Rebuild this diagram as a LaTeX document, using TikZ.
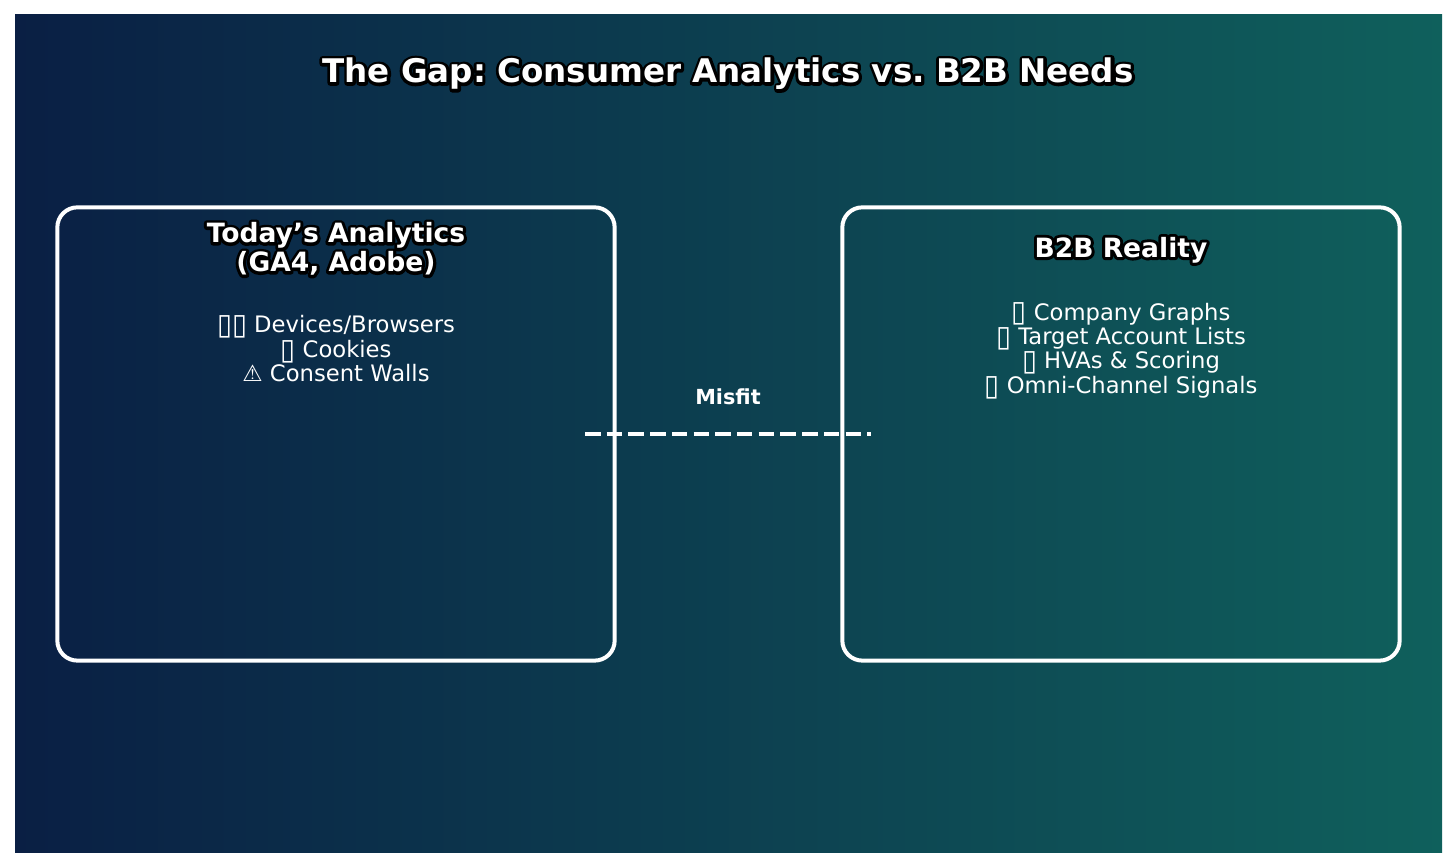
\documentclass[tikz,border=0pt]{standalone}
\usepackage{fontspec}
\usepackage{xcolor}
\usepackage{graphicx}
\setmainfont{DejaVu Sans}
\usetikzlibrary{calc}
\definecolor{gapleft}{RGB}{10,31,68}
\definecolor{gapright}{RGB}{15,96,92}
\newcommand{\tofu}{\raisebox{-0.08em}[0pt][0pt]{\scalebox{1.2}[1.3]{▯}}}
\newcommand{\outl}[1]{\leavevmode\rlap{\special{pdf:code q 2 Tr 1.7 w 1 j 0 0 0 RG 0 0 0 rg}#1\special{pdf:code Q}}#1}

\tikzset{
    panel/.style={draw=white, line width=0.04cm, rounded corners=0.2cm, minimum width=5.57cm, minimum height=4.53cm},
    heading/.style={text=white, align=center, font=\frenchspacing\fontsize{7.55}{8.25}\selectfont\bfseries},
    itemlist/.style={text=white, align=center, font=\fontsize{6.45}{6.95}\selectfont},
}

\begin{document}
\begin{tikzpicture}[x=0.01cm, y=-0.01cm]
    \useasboundingbox (0,0) rectangle (1456,868);

    % 1. Nền
    \shade[left color=gapleft, right color=gapright] (15,15) rectangle (1442,853);
    \node[text=white, font=\frenchspacing\fontsize{9.25}{11}\selectfont\bfseries] (title) at (728,74) {\outl{The Gap: Consumer Analytics vs. B2B Needs}};

    % 2. Hai khung
    \node[panel] (today) at (336,434) {};
    \node[panel] (reality) at (1121,434) {};

    % 3. Nội dung
    \node[heading] (todayhead) at (336,249) {\outl{Today’s Analytics}\\\outl{(GA4, Adobe)}};
    \node[itemlist] (todayitems) at (336,349) {\tofu\tofu{} Devices/Browsers\\\tofu{} Cookies\\⚠ Consent Walls};
    \node[heading] (realityhead) at (1121,250) {\outl{B2B Reality}};
    \node[itemlist] (realityitems) at (1121,350.5) {\tofu{} Company Graphs\\\tofu{} Target Account Lists\\\tofu{} HVAs \& Scoring\\\tofu{} Omni-Channel Signals};

    % 4. Đường nối
    \coordinate (gapstart) at (585,434);
    \coordinate (gapend) at (871,434);
    \draw[white, line width=0.038cm, dash pattern=on 0.155cm off 0.062cm] (gapstart) -- (gapend);
    \node[text=white, font=\fontsize{5.9}{7}\selectfont\bfseries] (misfit) at (728,397) {Misf{}it};
\end{tikzpicture}
\end{document}
